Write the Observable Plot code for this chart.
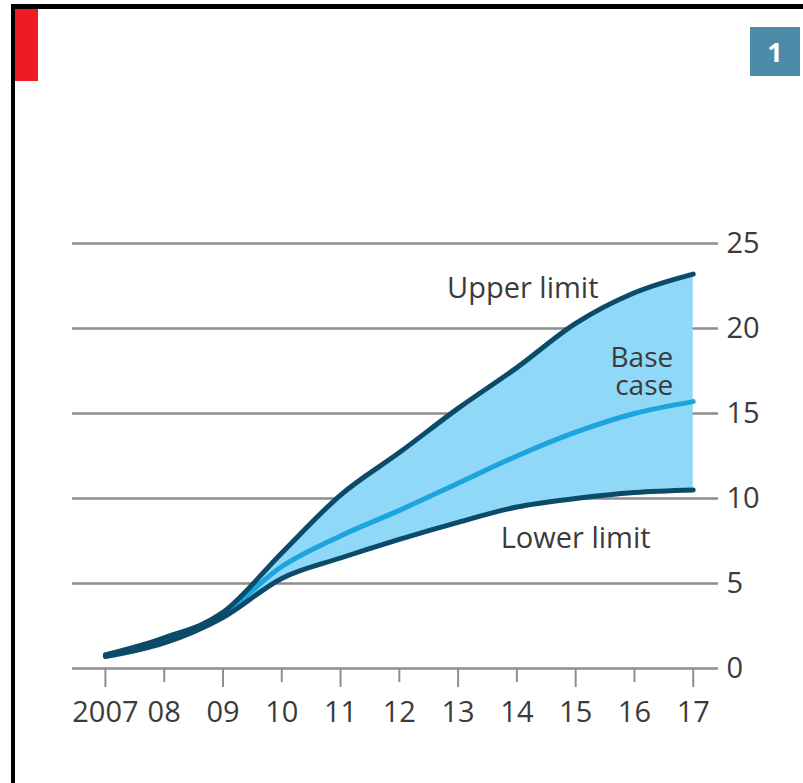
<!DOCTYPE html>
<html>
<head>
<meta charset="utf-8">
<script src="https://cdn.jsdelivr.net/npm/d3@7"></script>
<script src="https://cdn.jsdelivr.net/npm/@observablehq/plot@0.6"></script>
<style>
  html, body { margin: 0; padding: 0; background: #fff; }
  #wrap { position: relative; width: 803px; height: 783px; overflow: hidden; background: #fff; }
  #topb { position: absolute; left: 11px; top: 4px; width: 792px; height: 5px; background: #000; }
  #leftb { position: absolute; left: 11px; top: 4px; width: 4px; height: 779px; background: #000; }
  #tag { position: absolute; left: 15px; top: 9px; width: 23px; height: 72px; background: #ed1c24; }
  #num { position: absolute; left: 750px; top: 27px; width: 50px; height: 49px; background: #4b8ba7;
         color: #fff; font: bold 27px "Open Sans", sans-serif; text-align: center; line-height: 49px; }
  #chart { position: absolute; left: 0; top: 0; }
</style>
</head>
<body>
<div id="wrap">
  <div id="chart"></div>
  <div id="topb"></div>
  <div id="leftb"></div>
  <div id="tag"></div>
  <div id="num">1</div>
</div>
<script>
const years = [2007, 2008, 2009, 2010, 2011, 2012, 2013, 2014, 2015, 2016, 2017];
const yearLabels = ["2007", "08", "09", "10", "11", "12", "13", "14", "15", "16", "17"];
const upper = [0.8, 1.8, 3.3, 6.8, 10.2, 12.7, 15.3, 17.7, 20.3, 22.1, 23.2];
const base  = [0.8, 1.7, 3.2, 6.0, 7.8, 9.3, 10.9, 12.5, 13.9, 15.0, 15.7];
const lower = [0.7, 1.5, 3.0, 5.3, 6.5, 7.6, 8.6, 9.5, 10.0, 10.35, 10.5];
const yTicks = [0, 5, 10, 15, 20, 25];
const midLabels = [
  {x: 2014.1, y: 22.35, text: "Upper limit"},
  {x: 2015.0, y: 7.65, text: "Lower limit"}
];
const endLabels = [
  {x: 2016.66, y: 18.25, text: "Base"},
  {x: 2016.66, y: 16.6, text: "case"}
];

const data = years.map((y, i) => ({year: y, upper: upper[i], base: base[i], lower: lower[i]}));
const label = new Map(years.map((y, i) => [y, yearLabels[i]]));
const oddYears = years.filter((y, i) => i % 2 === 0);
const evenYears = years.filter((y, i) => i % 2 === 1);

const dark = "#0b4b69";
const bright = "#1ba4de";
const fillC = "#8fd8f7";
const grid = "#8e8e8e";
const textC = "#3b3b3b";

const chart = Plot.plot({
  width: 803,
  height: 783,
  marginLeft: 72,
  marginRight: 85,
  marginTop: 243,
  marginBottom: 115,
  style: {fontFamily: "'Open Sans', sans-serif", fontSize: "29px", color: textC, background: "transparent"},
  x: {domain: [2006.44, 2017.43]},
  y: {domain: [0, 25]},
  marks: [
    Plot.ruleY(yTicks, {stroke: grid, strokeWidth: 2.5}),
    Plot.areaY(data, {x: "year", y1: "lower", y2: "upper", fill: fillC, curve: "monotone-x"}),
    Plot.lineY(data, {x: "year", y: "base", stroke: bright, strokeWidth: 5, curve: "monotone-x"}),
    Plot.lineY(data, {x: "year", y: "upper", stroke: dark, strokeWidth: 5, curve: "monotone-x"}),
    Plot.lineY(data, {x: "year", y: "lower", stroke: dark, strokeWidth: 5, curve: "monotone-x"}),
    Plot.text(midLabels, {x: "x", y: "y", text: "text", textAnchor: "middle", fill: textC, fontSize: 29}),
    Plot.text(endLabels, {x: "x", y: "y", text: "text", textAnchor: "end", fill: textC, fontSize: 28}),
    Plot.axisY({anchor: "right", ticks: yTicks, tickSize: 0, tickPadding: 8, textAnchor: "start", fill: textC, fontSize: 29}),
    Plot.axisX({ticks: oddYears, tickSize: 19, tickPadding: 14, stroke: grid, strokeWidth: 2, tickFormat: d => label.get(d), fill: textC, fontSize: 29}),
    Plot.axisX({ticks: evenYears, tickSize: 14, tickPadding: 19, stroke: grid, strokeWidth: 2, tickFormat: d => label.get(d), fill: textC, fontSize: 29})
  ]
});
document.getElementById("chart").appendChild(chart);
</script>
</body>
</html>
